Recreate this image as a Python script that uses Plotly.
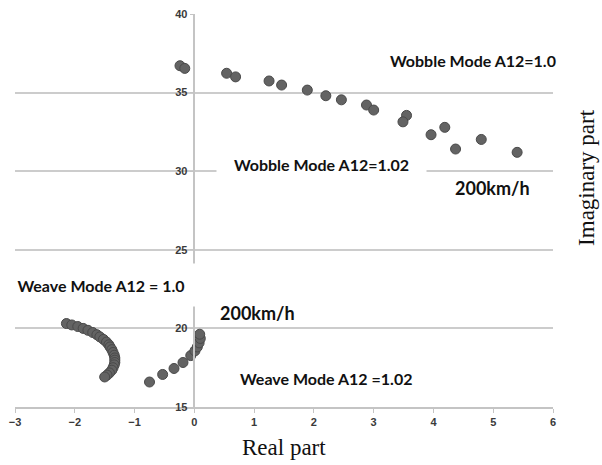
import plotly.graph_objects as go

# Wobble mode points (real, imaginary)
wobble_re = [-0.24, -0.16, 0.54, 0.69, 1.25, 1.46, 1.89, 2.20, 2.46, 2.88, 3.00,
             3.55, 3.49, 3.96, 4.19, 4.37, 4.80, 5.40]
wobble_im = [36.71, 36.54, 36.23, 36.00, 35.74, 35.48, 35.16, 34.80, 34.54, 34.21, 33.89,
             33.55, 33.14, 32.32, 32.79, 31.41, 32.02, 31.20]

# Weave mode A12 = 1.0
weave1_re = [-2.14, -2.05, -1.95, -1.86, -1.78, -1.70, -1.63, -1.58, -1.52, -1.47, -1.43, -1.41,
             -1.38, -1.36, -1.34, -1.33, -1.33, -1.33, -1.34, -1.36, -1.38, -1.42, -1.46, -1.50]
weave1_im = [20.31, 20.22, 20.12, 20.00, 19.88, 19.74, 19.60, 19.46, 19.30, 19.13, 18.96, 18.82,
             18.65, 18.47, 18.29, 18.12, 17.98, 17.83, 17.68, 17.50, 17.34, 17.17, 17.03, 16.91]

# Weave mode A12 = 1.02
weave2_re = [-0.75, -0.53, -0.34, -0.19, -0.06, 0.01, 0.05, 0.08, 0.10, 0.09]
weave2_im = [16.59, 17.07, 17.45, 17.83, 18.27, 18.57, 18.82, 19.08, 19.36, 19.63]

x_ticks = [-3, -2, -1, 0, 1, 2, 3, 4, 5, 6]
y_ticks = [15, 20, 25, 30, 35, 40]

marker = dict(size=10, color="#636363", line=dict(color="#4a4a4a", width=1))

fig = go.Figure()
for xs, ys in [(wobble_re, wobble_im), (weave1_re, weave1_im), (weave2_re, weave2_im)]:
    fig.add_trace(go.Scatter(x=xs, y=ys, mode="markers", marker=marker, showlegend=False))

tickfont = dict(family="Liberation Sans", size=11, color="#3a3a3a", weight="bold")
fig.update_layout(
    width=602, height=465,
    margin=dict(l=15, r=49, t=14, b=58),
    paper_bgcolor="white", plot_bgcolor="white",
    xaxis=dict(range=[-3, 6], tickvals=x_ticks, showgrid=False, zeroline=False,
               showline=True, linecolor="#c4c4c4", linewidth=1.5, automargin=False,
               ticks="outside", ticklen=4, tickcolor="#c4c4c4", tickfont=tickfont),
    yaxis=dict(range=[15, 40], tickvals=y_ticks, showgrid=True, gridcolor="#cccccc", gridwidth=1.5,
               zeroline=False, showline=True, linecolor="#c4c4c4", linewidth=1.5,
               anchor="free", position=1/3, automargin=False,
               ticks="outside", ticklen=4, tickcolor="#c4c4c4", tickfont=tickfont),
)

lab = dict(family="Lato", size=16, color="#111111", weight="bold")
big = dict(family="Lato", size=18, color="#111111", weight="bold")
fig.add_annotation(x=4.66, y=37.07, text="Wobble Mode A12=1.0", showarrow=False, font=lab)
fig.add_annotation(x=2.13, y=30.45, text="Wobble Mode A12=1.02", showarrow=False, font=lab,
                   bgcolor="white", width=207, height=26)
fig.add_annotation(x=4.99, y=28.92, text="200km/h", showarrow=False, font=big)
fig.add_annotation(x=-1.56, y=22.75, text="Weave Mode A12 = 1.0", showarrow=False, font=lab,
                   bgcolor="white", width=186, height=40)
fig.add_annotation(x=1.06, y=20.97, text="200km/h", showarrow=False, font=big)
fig.add_annotation(x=2.2, y=16.83, text="Weave Mode A12 =1.02", showarrow=False, font=lab)

serif = dict(family="Liberation Serif", size=23, color="#111111")
fig.add_annotation(xref="paper", yref="paper", x=0.5, y=-0.103, yanchor="middle",
                   text="Real part", showarrow=False, font=serif)
fig.add_annotation(xref="paper", yref="paper", x=1.061, y=0.585, xanchor="center", yanchor="middle",
                   text="Imaginary part", showarrow=False, font=serif, textangle=-90)

fig.write_html("out.html", config={"displayModeBar": False},
               post_script="document.body.style.margin='0';")
